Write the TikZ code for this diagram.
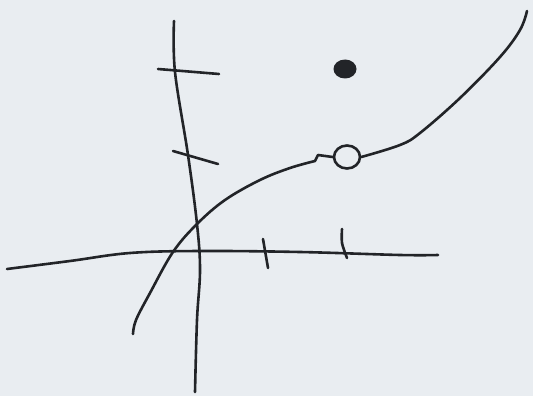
\documentclass[tikz,border=0pt]{standalone}
\usetikzlibrary{positioning}
\usetikzlibrary{shapes.geometric}
\definecolor{paper}{HTML}{E9EDF1}
\definecolor{ink}{HTML}{222428}
\begin{document}
\begin{tikzpicture}[x=1pt, y=-1pt,
    pen/.style={draw=ink, line width=2.6pt, line cap=round, line join=round},
    holept/.style={pen, ellipse, minimum width=26pt, minimum height=23pt, inner sep=0pt},
    dotpt/.style={fill=ink, ellipse, minimum width=23pt, minimum height=19pt, inner sep=0pt}]
    \fill[paper] (0,0) rectangle (533,396);
    % axes
    \draw[pen] plot[smooth, tension=0.6] coordinates {(174,21) (175,72) (188,155) (197,224) (200,270) (197,320) (195,392)};
    \draw[pen] plot[smooth, tension=0.6] coordinates {(7,269) (70,261) (130,253) (200,251) (300,252) (400,255) (438,255)};
    % ticks
    \draw[pen] (158,69) -- (219,74);
    \draw[pen] (173,151) -- (218,164);
    \draw[pen] (263,239) -- (268,268);
    \draw[pen] plot[smooth] coordinates {(342,229) (342,243) (347,258)};
    % hole and dot
    \node[holept] (hole) at (347,157) {};
    \node[dotpt] (dot) at (345,69) {};
    % curve
    \draw[pen] plot[smooth, tension=0.6] coordinates {(133,334) (136,320) (150,293) (173,252) (197,224) (225,200) (260,180) (290,168) (315,161)} -- (318,155) -- (hole.west);
    \draw[pen] plot[smooth, tension=0.6] coordinates {(hole.east) (400,145) (420,133) (460,98) (500,57) (520,30) (527,11)};
\end{tikzpicture}
\end{document}
